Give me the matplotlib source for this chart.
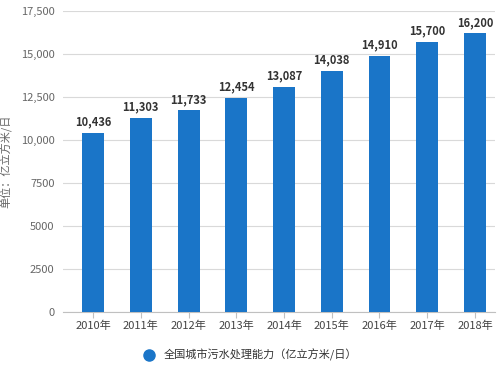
import matplotlib.pyplot as plt
from matplotlib.ticker import FuncFormatter

plt.rcParams['font.family'] = ['Noto Sans CJK SC', 'DejaVu Sans']

years = ['2010年', '2011年', '2012年', '2013年', '2014年', '2015年', '2016年', '2017年', '2018年']
capacity = [10436, 11303, 11733, 12454, 13087, 14038, 14910, 15700, 16200]
yticks = [0, 2500, 5000, 7500, 10000, 12500, 15000, 17500]

fig = plt.figure(figsize=(5, 3.69), dpi=100)
ax = fig.add_axes([0.126, 0.154, 0.864, 0.816])

x = range(len(years))
bars = ax.bar(x, capacity, width=0.46, color='#1a75c8', zorder=3,
              label='全国城市污水处理能力（亿立方米/日）')
for xi, v in zip(x, capacity):
    ax.text(xi, v + 250, f'{v:,}', ha='center', va='bottom',
            fontsize=8, fontweight='bold', color='#333333')

ax.set_xlim(-0.63, 8.42)
ax.set_ylim(0, 17500)
ax.set_yticks(yticks)
ax.yaxis.set_major_formatter(FuncFormatter(lambda v, p: f'{int(v):,}' if v >= 10000 else f'{int(v)}'))
ax.set_xticks(list(x))
ax.set_xticklabels(years)
ax.grid(axis='y', color='#d9d9d9', linewidth=0.8, zorder=0)
for s in ['top', 'right', 'left']:
    ax.spines[s].set_visible(False)
ax.spines['bottom'].set_color('#c0c0c0')
ax.tick_params(axis='y', length=0, labelsize=8, colors='#666666', pad=6)
ax.tick_params(axis='x', length=4, labelsize=8, colors='#444444', pad=2)
ax.tick_params(axis='x', color='#c0c0c0')
ax.set_ylabel('单位：亿立方米/日', fontsize=8, color='#666666')
ax.yaxis.set_label_coords(-0.118, 0.5)

leg = fig.legend(handles=[plt.Line2D([], [], marker='o', linestyle='', markersize=8,
                                      color='#1a75c8')],
                 labels=['全国城市污水处理能力（亿立方米/日）'],
                 loc='center', bbox_to_anchor=(0.495, 0.038), frameon=False,
                 fontsize=8, handletextpad=0.4)
for t in leg.get_texts():
    t.set_color('#333333')

fig.savefig('out.png', dpi=100)
